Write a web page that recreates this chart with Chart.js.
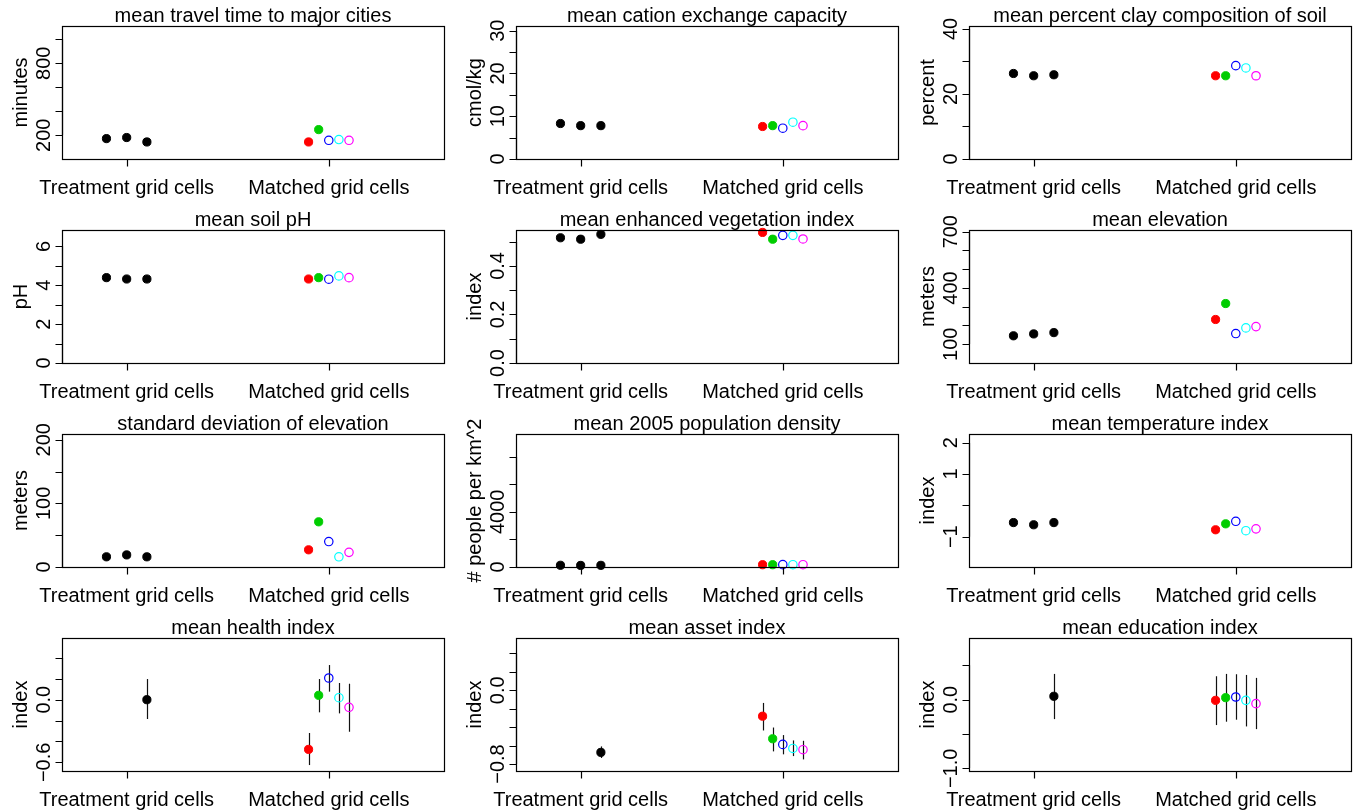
<!DOCTYPE html>
<html>
<head>
<meta charset="utf-8">
<script src="https://cdn.jsdelivr.net/npm/chart.js@4.4.1/dist/chart.umd.min.js"></script>
<style>
  html, body { margin: 0; padding: 0; background: #fff; width: 1356px; height: 812px; overflow: hidden; }
  .panel { position: absolute; width: 453px; height: 204px; }
</style>
</head>
<body>
<script>
// groups on the x axis
const groups = ["Treatment grid cells", "Matched grid cells"];

const titles = [
  "mean travel time to major cities", "mean cation exchange capacity", "mean percent clay composition of soil",
  "mean soil pH", "mean enhanced vegetation index", "mean elevation",
  "standard deviation of elevation", "mean 2005 population density", "mean temperature index",
  "mean health index", "mean asset index", "mean education index"
];
const yTitles = [
  "minutes", "cmol/kg", "percent",
  "pH", "index", "meters",
  "meters", "# people per km^2", "index",
  "index", "index", "index"
];

// values (treatment cells, then the 5 matched sets)
const travelTreat = [172, 181, 144];
const travelMatch = [144, 247, 158, 164, 158];
const cationTreat = [8.3, 7.8, 7.8];
const cationMatch = [7.6, 7.8, 7.2, 8.6, 7.8];
const clayTreat = [26.3, 25.6, 25.9];
const clayMatch = [25.6, 25.6, 28.7, 28.0, 25.6];
const phTreat = [4.39, 4.32, 4.32];
const phMatch = [4.32, 4.39, 4.31, 4.48, 4.39];
const eviTreat = [0.516, 0.510, 0.530];
const eviMatch = [0.538, 0.510, 0.526, 0.526, 0.511];
const elevTreat = [145, 155, 162];
const elevMatch = [232, 317, 157, 187, 194];
const sdElevTreat = [16, 19, 16];
const sdElevMatch = [27, 71, 40, 16, 23];
const popTreat = [125, 115, 120];
const popMatch = [165, 165, 170, 165, 165];
const tempTreat = [-0.55, -0.62, -0.55];
const tempMatch = [-0.78, -0.59, -0.51, -0.81, -0.75];

// survey indices with confidence intervals
const healthTreat = [0.0];
const healthTreatLo = [-0.185];
const healthTreatHi = [0.198];
const healthMatch = [-0.476, 0.042, 0.208, 0.019, -0.073];
const healthMatchLo = [-0.626, -0.121, 0.077, -0.131, -0.307];
const healthMatchHi = [-0.319, 0.198, 0.332, 0.160, 0.153];

const assetTreat = [-0.674];
const assetTreatLo = [-0.735];
const assetTreatHi = [-0.609];
const assetMatch = [-0.281, -0.526, -0.587, -0.631, -0.645];
const assetMatchLo = [-0.436, -0.663, -0.695, -0.714, -0.750];
const assetMatchHi = [-0.137, -0.404, -0.486, -0.544, -0.548];

const eduTreat = [0.049];
const eduTreatLo = [-0.283];
const eduTreatHi = [0.375];
const eduMatch = [-0.010, 0.029, 0.039, -0.010, -0.058];
const eduMatchLo = [-0.370, -0.321, -0.292, -0.390, -0.429];
const eduMatchHi = [0.341, 0.375, 0.370, 0.360, 0.317];

// y axis ticks and their labels ("" = tick without label)
const travelTicks = [200, 400, 600, 800, 1000];
const travelTickLabels = ["200", "", "", "800", ""];
const cationTicks = [0, 5, 10, 15, 20, 25, 30];
const cationTickLabels = ["0", "", "10", "", "20", "", "30"];
const clayTicks = [0, 10, 20, 30, 40];
const clayTickLabels = ["0", "", "20", "", "40"];
const phTicks = [0, 1, 2, 3, 4, 5, 6];
const phTickLabels = ["0", "", "2", "", "4", "", "6"];
const eviTicks = [0, 0.1, 0.2, 0.3, 0.4, 0.5];
const eviTickLabels = ["0.0", "", "0.2", "", "0.4", ""];
const elevTicks = [100, 200, 300, 400, 500, 600, 700];
const elevTickLabels = ["100", "", "", "400", "", "", "700"];
const sdElevTicks = [0, 50, 100, 150, 200];
const sdElevTickLabels = ["0", "", "100", "", "200"];
const popTicks = [0, 2000, 4000, 6000, 8000];
const popTickLabels = ["0", "", "4000", "", ""];
const tempTicks = [-1, 0, 1, 2];
const tempTickLabels = ["\u22121", "", "1", "2"];
const healthTicks = [-0.6, -0.4, -0.2, 0, 0.2, 0.4];
const healthTickLabels = ["\u22120.6", "", "", "0.0", "", ""];
const assetTicks = [-0.8, -0.6, -0.4, -0.2, 0, 0.2, 0.4];
const assetTickLabels = ["\u22120.8", "", "", "", "0.0", "", ""];
const eduTicks = [-1, -0.5, 0, 0.5];
const eduTickLabels = ["\u22121.0", "", "0.0", ""];

// styling / layout
const matchColors = ["#FF0000", "#00CD00", "#0000FF", "#00FFFF", "#FF00FF"];
const matchFilled = [true, true, false, false, false];
const treatJitter = [-0.1, 0, 0.1];
const treatJitterCI = [0.1];
const matchJitter = [-0.1, -0.05, 0, 0.05, 0.1];
const FONT = '20px "Liberation Sans", Arial, Helvetica, sans-serif';

const panels = [
  { treat: travelTreat, match: travelMatch, ticks: travelTicks, labels: travelTickLabels, yMin: 2, yMax: 1111 },
  { treat: cationTreat, match: cationMatch, ticks: cationTicks, labels: cationTickLabels, yMin: 0, yMax: 31.1 },
  { treat: clayTreat, match: clayMatch, ticks: clayTicks, labels: clayTickLabels, yMin: 0, yMax: 40.9 },
  { treat: phTreat, match: phMatch, ticks: phTicks, labels: phTickLabels, yMin: 0, yMax: 6.84 },
  { treat: eviTreat, match: eviMatch, ticks: eviTicks, labels: eviTickLabels, yMin: 0, yMax: 0.548 },
  { treat: elevTreat, match: elevMatch, ticks: elevTicks, labels: elevTickLabels, yMin: 0, yMax: 709 },
  { treat: sdElevTreat, match: sdElevMatch, ticks: sdElevTicks, labels: sdElevTickLabels, yMin: 0, yMax: 209 },
  { treat: popTreat, match: popMatch, ticks: popTicks, labels: popTickLabels, yMin: 0, yMax: 9644 },
  { treat: tempTreat, match: tempMatch, ticks: tempTicks, labels: tempTickLabels, yMin: -1.968, yMax: 2.277 },
  { treat: healthTreat, treatLo: healthTreatLo, treatHi: healthTreatHi,
    match: healthMatch, matchLo: healthMatchLo, matchHi: healthMatchHi,
    ticks: healthTicks, labels: healthTickLabels, yMin: -0.683, yMax: 0.591 },
  { treat: assetTreat, treatLo: assetTreatLo, treatHi: assetTreatHi,
    match: assetMatch, matchLo: assetMatchLo, matchHi: assetMatchHi,
    ticks: assetTicks, labels: assetTickLabels, yMin: -0.876, yMax: 0.568 },
  { treat: eduTreat, treatLo: eduTreatLo, treatHi: eduTreatHi,
    match: eduMatch, matchLo: eduMatchLo, matchHi: eduMatchHi,
    ticks: eduTicks, labels: eduTickLabels, yMin: -1.039, yMax: 0.898 }
];

// R-like base graphics: box, axes with outside ticks, rotated y labels, error bars
const rStyle = {
  id: "rStyle",
  beforeDatasetsDraw(chart) {
    const { ctx, scales: { x, y } } = chart;
    ctx.save();
    ctx.strokeStyle = "#111";
    ctx.lineWidth = 1.2;
    chart.data.datasets.forEach(ds => {
      if (!ds.lo) return;
      ds.data.forEach((p, i) => {
        const px = Math.round(x.getPixelForValue(p.x)) + 0.5;
        ctx.beginPath();
        ctx.moveTo(px, y.getPixelForValue(ds.lo[i]));
        ctx.lineTo(px, y.getPixelForValue(ds.hi[i]));
        ctx.stroke();
      });
    });
    ctx.restore();
  },
  afterDraw(chart, args, opts) {
    const { ctx, chartArea: a, scales: { x, y } } = chart;
    ctx.save();
    ctx.strokeStyle = "#000";
    ctx.fillStyle = "#000";
    ctx.lineWidth = 1.2;
    ctx.strokeRect(a.left + 0.5, a.top + 0.5, a.right - a.left, a.bottom - a.top);

    ctx.font = FONT;
    // x axis: line between group ticks, ticks outward, labels
    const x1 = Math.round(x.getPixelForValue(1)) + 0.5;
    const x2 = Math.round(x.getPixelForValue(2)) + 0.5;
    const yb = a.bottom + 0.5;
    ctx.beginPath();
    ctx.moveTo(x1, yb); ctx.lineTo(x2, yb);
    ctx.moveTo(x1, yb); ctx.lineTo(x1, yb + 7);
    ctx.moveTo(x2, yb); ctx.lineTo(x2, yb + 7);
    ctx.stroke();
    ctx.textAlign = "center";
    ctx.textBaseline = "alphabetic";
    groups.forEach((g, i) => ctx.fillText(g, x.getPixelForValue(i + 1), a.bottom + 34.5));

    // y axis
    const xl = a.left + 0.5;
    const tk = opts.ticks;
    const yTop = y.getPixelForValue(tk[tk.length - 1]);
    const yBot = y.getPixelForValue(tk[0]);
    ctx.beginPath();
    ctx.moveTo(xl, yTop); ctx.lineTo(xl, yBot);
    tk.forEach(v => {
      const py = Math.round(y.getPixelForValue(v)) + 0.5;
      ctx.moveTo(xl, py); ctx.lineTo(xl - 7, py);
    });
    ctx.stroke();
    tk.forEach((v, i) => {
      const lab = opts.labels[i];
      if (!lab) return;
      ctx.save();
      ctx.translate(a.left - 12, y.getPixelForValue(v));
      ctx.rotate(-Math.PI / 2);
      ctx.fillText(lab, 0, 0);
      ctx.restore();
    });

    // y axis title
    ctx.save();
    ctx.translate(a.left - 35, (a.top + a.bottom) / 2);
    ctx.rotate(-Math.PI / 2);
    ctx.fillText(opts.ylab, 0, 0);
    ctx.restore();

    // main title
    ctx.fillText(opts.title, (a.left + a.right) / 2, a.top - 4);
    ctx.restore();
  }
};

panels.forEach((p, k) => {
  const col = k % 3, row = Math.floor(k / 3);
  const div = document.createElement("div");
  div.className = "panel";
  div.style.left = Math.round(col * 453.5) + "px";
  div.style.top = (row * 204) + "px";
  const cv = document.createElement("canvas");
  cv.width = 453; cv.height = 204;
  div.appendChild(cv);
  document.body.appendChild(div);

  const tj = p.treatLo ? treatJitterCI : treatJitter;
  const treatSet = {
    data: p.treat.map((v, i) => ({ x: 1 + tj[i], y: v })),
    pointRadius: 4.1,
    pointBorderWidth: 1,
    pointBackgroundColor: "#000",
    pointBorderColor: "#000",
    showLine: false,
    clip: false,
    lo: p.treatLo, hi: p.treatHi
  };
  const matchSet = {
    data: p.match.map((v, i) => ({ x: 2 + matchJitter[i], y: v })),
    pointRadius: matchFilled.map(f => f ? 4.1 : 4.2),
    pointBorderWidth: matchFilled.map(f => f ? 1 : 1.2),
    pointBackgroundColor: matchColors.map((c, i) => matchFilled[i] ? c : "rgba(0,0,0,0)"),
    pointBorderColor: matchColors,
    showLine: false,
    clip: false,
    lo: p.matchLo, hi: p.matchHi
  };

  new Chart(cv.getContext("2d"), {
    type: "scatter",
    data: { datasets: [treatSet, matchSet] },
    options: {
      responsive: false,
      animation: false,
      devicePixelRatio: 1,
      layout: { padding: { left: 62, right: 9, top: 26, bottom: 45 } },
      scales: {
        x: { type: "linear", min: 0.68, max: 2.57, display: false },
        y: { type: "linear", min: p.yMin, max: p.yMax, display: false }
      },
      plugins: {
        legend: { display: false },
        tooltip: { enabled: false },
        rStyle: { title: titles[k], ylab: yTitles[k], ticks: p.ticks, labels: p.labels }
      }
    },
    plugins: [rStyle]
  });
});
</script>
</body>
</html>
